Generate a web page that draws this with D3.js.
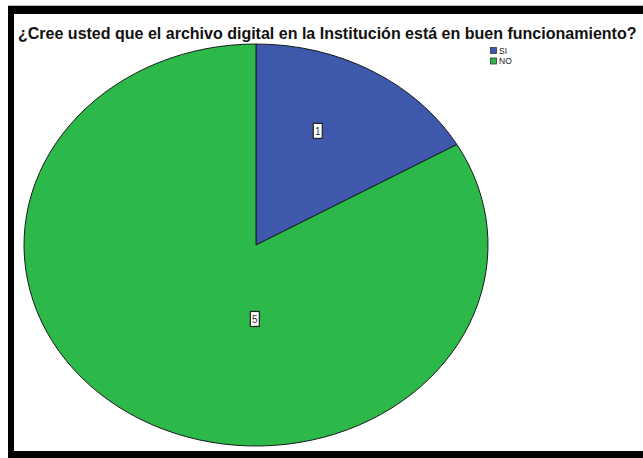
<!DOCTYPE html>
<html>
<head>
<meta charset="utf-8">
<script src="https://cdn.jsdelivr.net/npm/d3@7"></script>
<style>
  html, body { margin: 0; padding: 0; background: #fff; }
  svg { display: block; }
</style>
</head>
<body>
<svg id="chart" width="643" height="458"></svg>
<script>
// Survey answers and their counts
const categories = ["SI", "NO"];
const counts = [1, 5];
const colors = ["#3E58AC", "#2DB84A"];
const title = "¿Cree usted que el archivo digital en la Institución está en buen funcionamiento?";

const svg = d3.select("#chart");
const W = 643, H = 458;

// Heavy frame: top, left and bottom bands
svg.append("rect").attr("x", 8).attr("y", 6).attr("width", W - 8).attr("height", 8).attr("fill", "#000");
svg.append("rect").attr("x", 8).attr("y", 6).attr("width", 6).attr("height", H - 6).attr("fill", "#000");
svg.append("rect").attr("x", 8).attr("y", 451).attr("width", W - 8).attr("height", 7).attr("fill", "#000");
svg.append("line").attr("x1", 8).attr("x2", W).attr("y1", 5.5).attr("y2", 5.5).attr("stroke", "#bbb");

// Title, fitted to its width
const t = svg.append("text")
  .attr("x", 18).attr("y", 39)
  .attr("font-family", "Liberation Sans, Arial, sans-serif")
  .attr("font-weight", "bold")
  .attr("font-size", 15)
  .attr("fill", "#111")
  .text(title);
const targetW = 619;
t.attr("font-size", 15 * targetW / t.node().getComputedTextLength());

// Elliptical pie: draw a circle of radius rx and squash vertically
const cx = 256, cy = 245, rx = 232, ry = 201;
const pie = d3.pie().sort(null).value(d => d)
  .startAngle(0).endAngle(2 * Math.PI);
const arcs = pie(counts);
const arc = d3.arc().innerRadius(0).outerRadius(rx);

const g = svg.append("g").attr("transform", `translate(${cx},${cy}) scale(1,${ry / rx})`);
g.selectAll("path.slice")
  .data(arcs)
  .enter().append("path")
  .attr("class", "slice")
  .attr("d", arc)
  .attr("fill", (d, i) => colors[i])
  .attr("stroke", "#1a1a1a")
  .attr("stroke-width", 1)
  .attr("vector-effect", "non-scaling-stroke");

// Count labels inside each slice: angle offset (radians) from the slice's
// mid angle and distance as a fraction of the radius
const labelSpots = [
  { angleShift: -0.085, frac: 0.627 },
  { angleShift: -0.51, frac: 0.368 }
];
arcs.forEach((d, i) => {
  const a = (d.startAngle + d.endAngle) / 2 + labelSpots[i].angleShift;
  const lx = cx + Math.sin(a) * rx * labelSpots[i].frac;
  const ly = cy - Math.cos(a) * ry * labelSpots[i].frac;
  const lg = svg.append("g").attr("transform", `translate(${lx},${ly})`);
  lg.append("rect").attr("x", -4.5).attr("y", -7.5).attr("width", 9).attr("height", 15)
    .attr("fill", "#fff").attr("stroke", "#222").attr("stroke-width", 1.2);
  lg.append("text").attr("text-anchor", "middle").attr("y", 4)
    .attr("font-family", "Liberation Sans, Arial, sans-serif")
    .attr("font-size", 10).attr("fill", "#333")
    .text(counts[i]);
});

// Legend
const leg = svg.append("g").attr("transform", "translate(490,47)");
categories.forEach((c, i) => {
  const row = leg.append("g").attr("transform", `translate(0,${i * 10.5})`);
  row.append("rect").attr("x", 0.5).attr("y", 0.5).attr("width", 6).attr("height", 6)
    .attr("fill", colors[i]).attr("stroke", "#333").attr("stroke-width", 0.8);
  row.append("text").attr("x", 9).attr("y", 6.5)
    .attr("font-family", "Liberation Sans, Arial, sans-serif")
    .attr("font-size", 8.5).attr("fill", "#222")
    .text(c);
});
</script>
</body>
</html>
